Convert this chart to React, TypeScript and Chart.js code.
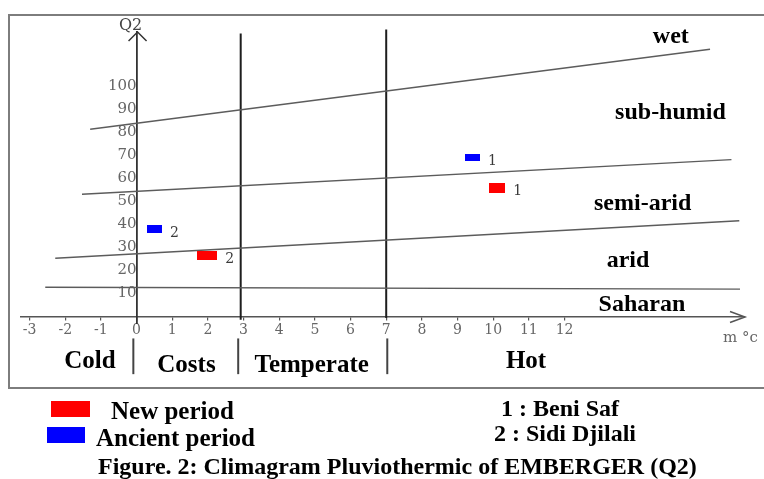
import React, { useEffect, useRef } from 'react';
import { Chart, registerables } from 'chart.js';

Chart.register(...registerables);

// ---------------- data ----------------
const xTickValues = [-3, -2, -1, 0, 1, 2, 3, 4, 5, 6, 7, 8, 9, 10, 11, 12];
const yTickValues = [10, 20, 30, 40, 50, 60, 70, 80, 90, 100];

const siteNumbers = ['1', '2'];
const siteNames = ['Beni Saf', 'Sidi Djilali'];

// m (°C) and Q2 of each station
const newPeriodM = [10.11, 1.98];
const newPeriodQ2 = [55.9, 26.5];
const ancientPeriodM = [9.42, 0.5];
const ancientPeriodQ2 = [69.0, 37.8];

// limits between bioclimatic stages: [start, end]
const stageLimitM = [[-1.3, 16.08], [-1.53, 16.68], [-2.28, 16.9], [-2.56, 16.92]];
const stageLimitQ2 = [[81.3, 116.0], [53.1, 68.1], [25.3, 41.6], [12.7, 11.9]];

// limits between thermal variants (vertical lines)
const thermalLimitM = [2.92, 7.0];
const thermalLimitQ2 = [[-1.4, 122.9], [-0.6, 124.6]];
const thermalSeparatorM = [-0.09, 2.85, 7.03];

const stageNames = ['wet', 'sub-humid', 'semi-arid', 'arid', 'Saharan'];
const thermalNames = ['Cold', 'Costs', 'Temperate', 'Hot'];
const legendNames = ['New period', 'Ancient period'];
const yAxisName = 'Q2';
const xAxisName = 'm °c';
const caption = 'Figure. 2: Climagram Pluviothermic of EMBERGER (Q2)';

// ---------------- layout (not data) ----------------
const RANGE = { xMin: -3.24, xMax: 17.06, yMin: -2.8, yMax: 123.5 };
const stageLabelAt = [[14.98, 118.6], [14.97, 85.7], [14.19, 46.3], [13.78, 21.7], [14.17, 2.2]];
const thermalLabelAt = [[-1.31, -22.4], [1.4, -23.9], [4.91, -23.9], [10.92, -22.4]];
const separatorQ2 = [-9.5, -25];

const SERIF = '"Liberation Serif", "Times New Roman", serif';
const TICKFONT = '"DejaVu Serif", serif';
const RED = '#ff0000';
const BLUE = '#0000ff';

function rectImage(w: number, h: number, color: string) {
  const c = document.createElement('canvas');
  c.width = w;
  c.height = h;
  const g = c.getContext('2d')!;
  g.fillStyle = color;
  g.fillRect(0, 0, w, h);
  return c;
}

const decorPlugin = {
  id: 'decor',
  beforeDraw(chart: any) {
    const { ctx, width, height } = chart;
    ctx.save();
    ctx.fillStyle = '#ffffff';
    ctx.fillRect(0, 0, width, height);
    ctx.strokeStyle = '#7d7d7d';
    ctx.lineWidth = 2;
    ctx.strokeRect(9, 15, width + 20, 373);
    ctx.restore();
  },
  afterDatasetsDraw(chart: any) {
    const { ctx } = chart;
    // station numbers next to the markers
    ctx.save();
    ctx.fillStyle = '#3a3a3a';
    ctx.font = `14px ${TICKFONT}`;
    ctx.textAlign = 'left';
    ctx.textBaseline = 'alphabetic';
    [0, 1].forEach((di) => {
      const meta = chart.getDatasetMeta(di);
      meta.data.forEach((el: any, i: number) => {
        const img = chart.data.datasets[di].pointStyle[i];
        ctx.fillText(siteNumbers[i], el.x + img.width / 2 + 8, el.y + 7.5);
      });
    });
    ctx.restore();
  },
  afterDraw(chart: any) {
    const { ctx, chartArea } = chart;
    const xs = chart.scales.x;
    const ys = chart.scales.y;
    const x0 = xs.getPixelForValue(0);
    const y0 = ys.getPixelForValue(0);
    ctx.save();
    // axis arrows
    ctx.strokeStyle = '#333';
    ctx.lineWidth = 1.5;
    ctx.beginPath();
    ctx.moveTo(x0 - 8, chartArea.top + 9);
    ctx.lineTo(x0 + 1, chartArea.top);
    ctx.lineTo(x0 + 10, chartArea.top + 9);
    ctx.stroke();
    ctx.strokeStyle = '#555';
    ctx.beginPath();
    ctx.moveTo(chartArea.right - 15, y0 - 5);
    ctx.lineTo(chartArea.right, y0 + 0.5);
    ctx.lineTo(chartArea.right - 15, y0 + 6);
    ctx.stroke();

    // axis names
    ctx.fillStyle = '#444';
    ctx.font = `16px ${TICKFONT}`;
    ctx.textAlign = 'center';
    ctx.textBaseline = 'alphabetic';
    ctx.fillText(yAxisName, x0 - 6, chartArea.top - 2);
    ctx.fillStyle = '#666';
    ctx.font = `15px ${TICKFONT}`;
    ctx.textAlign = 'left';
    ctx.fillText(xAxisName, chartArea.right - 22, y0 + 25);

    // separators between thermal variants
    ctx.strokeStyle = '#444';
    ctx.lineWidth = 2;
    thermalSeparatorM.forEach((m) => {
      const px = xs.getPixelForValue(m);
      ctx.beginPath();
      ctx.moveTo(px, ys.getPixelForValue(separatorQ2[0]));
      ctx.lineTo(px, ys.getPixelForValue(separatorQ2[1]));
      ctx.stroke();
    });

    // bioclimatic stage names
    ctx.fillStyle = '#000';
    ctx.textAlign = 'center';
    ctx.font = `bold 24px ${SERIF}`;
    stageNames.forEach((n, i) => {
      ctx.fillText(n, xs.getPixelForValue(stageLabelAt[i][0]), ys.getPixelForValue(stageLabelAt[i][1]));
    });
    // thermal variant names
    ctx.font = `bold 25px ${SERIF}`;
    thermalNames.forEach((n, i) => {
      ctx.fillText(n, xs.getPixelForValue(thermalLabelAt[i][0]), ys.getPixelForValue(thermalLabelAt[i][1]));
    });
    ctx.restore();
  },
};

export default function App() {
  const ref = useRef<HTMLCanvasElement>(null);

  useEffect(() => {
    if (!ref.current) return;
    const redStyles = [rectImage(16, 10, RED), rectImage(20, 9, RED)];
    const blueStyles = [rectImage(15, 7, BLUE), rectImage(15, 8, BLUE)];

    const datasets: any[] = [
      {
        label: legendNames[0],
        data: newPeriodM.map((m, i) => ({ x: m, y: newPeriodQ2[i] })),
        pointStyle: redStyles,
        pointRadius: 8,
        pointHoverRadius: 8,
        backgroundColor: RED,
        borderWidth: 0,
        showLine: false,
      },
      {
        label: legendNames[1],
        data: ancientPeriodM.map((m, i) => ({ x: m, y: ancientPeriodQ2[i] })),
        pointStyle: blueStyles,
        pointRadius: 8,
        pointHoverRadius: 8,
        backgroundColor: BLUE,
        borderWidth: 0,
        showLine: false,
      },
      ...stageLimitM.map((ms, i) => ({
        label: 'stage limit ' + (i + 1),
        data: ms.map((m, j) => ({ x: m, y: stageLimitQ2[i][j] })),
        showLine: true,
        borderColor: '#5c5c5c',
        borderWidth: 1.4,
        pointRadius: 0,
        pointHoverRadius: 0,
        clip: false,
      })),
      ...thermalLimitM.map((m, i) => ({
        label: 'thermal limit ' + (i + 1),
        data: thermalLimitQ2[i].map((q) => ({ x: m, y: q })),
        showLine: true,
        borderColor: '#1e1e1e',
        borderWidth: 2,
        pointRadius: 0,
        pointHoverRadius: 0,
        clip: false,
      })),
    ];

    const chart = new Chart(ref.current, {
      type: 'scatter',
      data: { datasets },
      plugins: [decorPlugin],
      options: {
        animation: false,
        responsive: false,
        events: [],
        layout: { padding: { left: 21, right: 19, top: 32, bottom: 156 } },
        plugins: { legend: { display: false }, tooltip: { enabled: false }, title: { display: false } },
        scales: {
          x: {
            type: 'linear',
            min: RANGE.xMin,
            max: RANGE.xMax,
            position: { y: 0 } as any,
            afterBuildTicks: (s: any) => {
              s.ticks = xTickValues.map((v) => ({ value: v }));
            },
            ticks: {
              autoSkip: false,
              maxRotation: 0,
              padding: 2,
              color: '#666',
              font: { family: TICKFONT, size: 14 },
              callback: (v: any) => String(v),
            },
            grid: { drawOnChartArea: false, drawTicks: true, tickLength: 3, color: '#555', lineWidth: 1.2 },
            border: { display: true, color: '#555', width: 1.5 },
          },
          y: {
            type: 'linear',
            min: RANGE.yMin,
            max: RANGE.yMax,
            position: { x: 0 } as any,
            afterBuildTicks: (s: any) => {
              s.ticks = yTickValues.map((v) => ({ value: v }));
            },
            ticks: {
              autoSkip: false,
              padding: 0,
              color: '#666',
              font: { family: TICKFONT, size: 15 },
              callback: (v: any) => String(v),
            },
            grid: { drawOnChartArea: false, drawTicks: false, color: '#333' },
            border: { display: true, color: '#333', width: 1.8 },
          },
        },
      } as any,
    });
    return () => chart.destroy();
  }, []);

  const abs = (o: any) => ({ position: 'absolute', whiteSpace: 'nowrap', color: '#000', ...o });

  return (
    <div style={{ position: 'fixed', left: 0, top: 0, width: 764, height: 479, background: '#fff', overflow: 'hidden' }}>
      <canvas ref={ref} width={764} height={479} style={{ position: 'absolute', left: 0, top: 0, width: 764, height: 479 }} />
      <div style={abs({ left: 51, top: 401, width: 39, height: 16, background: RED })} />
      <div style={abs({ left: 111, top: 398, font: `bold 25px/25px ${SERIF}` })}>{legendNames[0]}</div>
      <div style={abs({ left: 47, top: 427, width: 38, height: 16, background: BLUE })} />
      <div style={abs({ left: 96, top: 425, font: `bold 25px/25px ${SERIF}` })}>{legendNames[1]}</div>
      <div style={abs({ left: 501, top: 396, font: `bold 24px/24px ${SERIF}` })}>{siteNumbers[0]} : {siteNames[0]}</div>
      <div style={abs({ left: 494, top: 421, font: `bold 24px/24px ${SERIF}` })}>{siteNumbers[1]} : {siteNames[1]}</div>
      <div style={abs({ left: 98, top: 454, font: `bold 24px/24px ${SERIF}` })}>{caption}</div>
    </div>
  );
}
